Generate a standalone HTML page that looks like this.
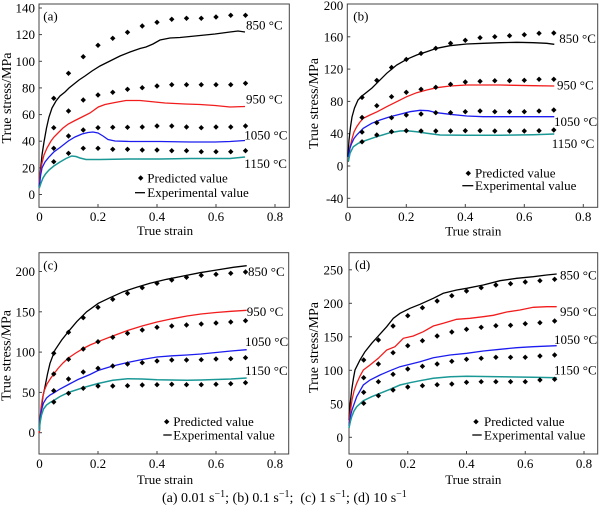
<!DOCTYPE html>
<html><head><meta charset="utf-8"><style>
html,body{margin:0;padding:0;background:#fff}
svg{display:block;font-family:"Liberation Serif","Times New Roman",Times,serif}
svg text{font-family:"Liberation Serif","Times New Roman",Times,serif;font-size:13px;fill:#000}
.f{fill:none;stroke:#444;stroke-width:1}
.t{stroke:#444;stroke-width:1}
.k{fill:none;stroke:#000;stroke-width:1.3}
.r{fill:none;stroke:#f21c1c;stroke-width:1.3}
.b{fill:none;stroke:#1c1cf0;stroke-width:1.3}
.c{fill:none;stroke:#1a9896;stroke-width:1.5}
</style></head><body>
<svg width="600" height="512" viewBox="0 0 600 512" xmlns="http://www.w3.org/2000/svg" font-family="Liberation Serif, Times New Roman, serif" font-size="13" style="font-family:'Liberation Serif',serif">
<defs><path id="m" d="M0,-2.7L2.7,0L0,2.7L-2.7,0Z" fill="#000"/></defs>

<!-- ================= (a) ================= -->
<rect class="f" x="39" y="4" width="250.3" height="203.3"/>
<g class="t">
<line x1="98" y1="207.3" x2="98" y2="204"/><line x1="157" y1="207.3" x2="157" y2="204"/><line x1="216" y1="207.3" x2="216" y2="204"/><line x1="275" y1="207.3" x2="275" y2="204"/>
<line x1="39" y1="194.5" x2="42" y2="194.5"/><line x1="39" y1="167.9" x2="42" y2="167.9"/><line x1="39" y1="141.2" x2="42" y2="141.2"/><line x1="39" y1="114.6" x2="42" y2="114.6"/><line x1="39" y1="87.9" x2="42" y2="87.9"/><line x1="39" y1="61.3" x2="42" y2="61.3"/><line x1="39" y1="34.6" x2="42" y2="34.6"/><line x1="39" y1="8" x2="42" y2="8"/>
</g>
<g text-anchor="end">
<text x="35" y="199">0</text><text x="35" y="172.4">20</text><text x="35" y="145.7">40</text><text x="35" y="119.1">60</text><text x="35" y="92.4">80</text><text x="35" y="65.8">100</text><text x="35" y="39.1">120</text><text x="35" y="12.5">140</text>
</g>
<g text-anchor="middle">
<text x="39.5" y="221">0</text><text x="98" y="221">0.2</text><text x="157" y="221">0.4</text><text x="216" y="221">0.6</text><text x="275" y="221">0.8</text>
<text x="165" y="235">True strain</text>
<text transform="translate(11,98) rotate(-90)" font-size="14" style="font-size:14px" textLength="91" lengthAdjust="spacingAndGlyphs">True stress/MPa</text>
</g>
<text x="43.3" y="20.5">(a)</text>
<text x="246" y="29.5">850 °C</text><text x="246" y="103.5">950 °C</text><text x="244.3" y="139.5">1050 °C</text><text x="244.3" y="167.8">1150 °C</text>
<polyline class="k" points="39.3,187 40.5,170 42,155 44,142 46.5,128 49,117 52,108 56,101 60,96 65,92 69,88 74,84 79,80 85,76 92,71 100,66 110,61 120,56 130,52 140,48.5 146,47 153,44 160,40 170,38 180,37.5 190,36.5 200,35.5 215,34 230,32 238,31 245,32"/>
<polyline class="r" points="39.3,183 40.5,172 42,163 44,155 47,148 51,141 54,137 58,133 63,128 68.3,124 75,120.5 83,116.5 90,113 98.3,107 105,104.5 115,102.5 126,100.5 140,100.5 150,101.5 165,103 185,104 200,104.5 215,105.5 230,107 245,106.5"/>
<polyline class="b" points="39.3,188 40.5,176 42,168 45,162 49,157 53.8,152 60,147.5 68.3,141 75,137 82,134 88,132.5 93,132 98,133 103,136 108,139.5 115,141 130,141.5 160,141.5 190,142 215,142 230,141.5 245,140.5"/>
<polyline class="c" points="39.3,188 41,183 43,178 45.5,174 49,170 53.8,166 60,162 66,158.5 71.7,156 76,156.5 80,158 86,159.5 100,159.5 130,159 160,159 190,158.5 215,158.5 230,158.5 245,157"/>
<g transform="translate(39,0)">
<use href="#m" x="14.75" y="98.3"/><use href="#m" x="29.5" y="73.3"/><use href="#m" x="44.25" y="56.7"/><use href="#m" x="59" y="45.3"/><use href="#m" x="73.75" y="38.3"/><use href="#m" x="88.5" y="32.3"/><use href="#m" x="103.25" y="26"/><use href="#m" x="118" y="22.3"/><use href="#m" x="132.75" y="19.3"/><use href="#m" x="147.5" y="18.3"/><use href="#m" x="162.25" y="18.3"/><use href="#m" x="177" y="17"/><use href="#m" x="191.75" y="15.3"/><use href="#m" x="206.5" y="15.3"/>
<use href="#m" x="14.75" y="127.7"/><use href="#m" x="29.5" y="111"/><use href="#m" x="44.25" y="100"/><use href="#m" x="59" y="95"/><use href="#m" x="73.75" y="92.3"/><use href="#m" x="88.5" y="89.3"/><use href="#m" x="103.25" y="87.7"/><use href="#m" x="118" y="86"/><use href="#m" x="132.75" y="84.7"/><use href="#m" x="147.5" y="84.7"/><use href="#m" x="162.25" y="84.7"/><use href="#m" x="177" y="84.7"/><use href="#m" x="191.75" y="84.7"/><use href="#m" x="206.5" y="83.3"/>
<use href="#m" x="14.75" y="148.3"/><use href="#m" x="29.5" y="136"/><use href="#m" x="44.25" y="130"/><use href="#m" x="59" y="127.7"/><use href="#m" x="73.75" y="127.3"/><use href="#m" x="88.5" y="127.3"/><use href="#m" x="103.25" y="127"/><use href="#m" x="118" y="126"/><use href="#m" x="132.75" y="126"/><use href="#m" x="147.5" y="127"/><use href="#m" x="162.25" y="127.7"/><use href="#m" x="177" y="127"/><use href="#m" x="191.75" y="127"/><use href="#m" x="206.5" y="126"/>
<use href="#m" x="14.75" y="161.7"/><use href="#m" x="29.5" y="153.3"/><use href="#m" x="44.25" y="148.3"/><use href="#m" x="59" y="148.3"/><use href="#m" x="73.75" y="149.3"/><use href="#m" x="88.5" y="149.3"/><use href="#m" x="103.25" y="150"/><use href="#m" x="118" y="150"/><use href="#m" x="132.75" y="150.7"/><use href="#m" x="147.5" y="150.7"/><use href="#m" x="162.25" y="151.7"/><use href="#m" x="177" y="151.7"/><use href="#m" x="191.75" y="151.7"/><use href="#m" x="206.5" y="150.7"/>
</g>
<use href="#m" x="140.7" y="178"/><text x="147.3" y="182.5">Predicted value</text>
<line x1="135" y1="192.7" x2="145" y2="192.7" stroke="#000" stroke-width="1.3"/><text x="147.3" y="197">Experimental value</text>

<!-- ================= (b) ================= -->
<rect class="f" x="347.3" y="4" width="250.4" height="203.3"/>
<g class="t">
<line x1="406.3" y1="207.3" x2="406.3" y2="204"/><line x1="465.3" y1="207.3" x2="465.3" y2="204"/><line x1="524.3" y1="207.3" x2="524.3" y2="204"/><line x1="583.3" y1="207.3" x2="583.3" y2="204"/>
<line x1="347.3" y1="198.3" x2="350.3" y2="198.3"/><line x1="347.3" y1="166" x2="350.3" y2="166"/><line x1="347.3" y1="133.7" x2="350.3" y2="133.7"/><line x1="347.3" y1="101.4" x2="350.3" y2="101.4"/><line x1="347.3" y1="69.1" x2="350.3" y2="69.1"/><line x1="347.3" y1="36.8" x2="350.3" y2="36.8"/>
</g>
<g text-anchor="end">
<text x="343.3" y="202.8">-40</text><text x="343.3" y="170.5">0</text><text x="343.3" y="138.2">40</text><text x="343.3" y="105.9">80</text><text x="343.3" y="73.6">120</text><text x="343.3" y="41.3">160</text><text x="343.3" y="10">200</text>
</g>
<g text-anchor="middle">
<text x="348" y="221">0</text><text x="406.3" y="221">0.2</text><text x="465.3" y="221">0.4</text><text x="524.3" y="221">0.6</text><text x="583.3" y="221">0.8</text>
<text x="473.3" y="235.5">True strain</text>
<text transform="translate(318,103.5) rotate(-90)" font-size="14" style="font-size:14px" textLength="91" lengthAdjust="spacingAndGlyphs">True stress/MPa</text>
</g>
<text x="353.3" y="20.5">(b)</text>
<text x="559.3" y="42.8">850 °C</text><text x="557" y="89.5">950 °C</text><text x="554" y="126.2">1050 °C</text><text x="551.7" y="147.8">1150 °C</text>
<polyline class="k" points="348,157 349,140 350.5,127 352,117 354.5,108 358,100 362,96 367,92 372,88 377.3,82.7 386.7,73.3 396.7,65 406.7,59.3 416.7,55 426.7,51.7 436.7,48.3 450,45.7 466.7,44 483.3,43.3 500,42.7 516.7,42.3 533.3,42.7 546.7,43.3 554.3,44.3"/>
<polyline class="r" points="348.3,162 349.5,150 351.7,140 354,132 356.7,126.7 360,122 363.3,118.3 370,115 377.3,111.7 386.7,106.7 396.7,101.7 406.7,96.7 416.7,92.7 426.7,90 436.7,87.7 450,86 466.7,85 500,85 533.3,85.7 554.3,86"/>
<polyline class="b" points="348.3,157 350,148 351.7,143.3 354,138.5 356.7,135 363.3,128.3 371.7,123.3 380,120 390,116.7 400,114.3 410,111.7 420,110.3 428.3,110.7 436.7,112.7 450,114.3 466.7,116 483.3,116.7 516.7,116.7 554.3,116.7"/>
<polyline class="c" points="348.3,161.7 350,153.3 353.3,146.7 358.3,143.3 365,140.7 376.7,136.7 390,132.7 400,131 406.7,130.7 416.7,131.7 426.7,133.3 440,135 466.7,135.3 500,135.3 533.3,134.7 554.3,134"/>
<g transform="translate(347.3,0)">
<use href="#m" x="14.75" y="97.4"/><use href="#m" x="29.5" y="80.4"/><use href="#m" x="44.25" y="67.5"/><use href="#m" x="59" y="59.4"/><use href="#m" x="73.75" y="53.4"/><use href="#m" x="88.5" y="48.3"/><use href="#m" x="103.25" y="43.3"/><use href="#m" x="118" y="40.3"/><use href="#m" x="132.75" y="37.7"/><use href="#m" x="147.5" y="36.7"/><use href="#m" x="162.25" y="35.7"/><use href="#m" x="177" y="34.7"/><use href="#m" x="191.75" y="33.3"/><use href="#m" x="206.5" y="33"/>
<use href="#m" x="14.75" y="117.5"/><use href="#m" x="29.5" y="105.7"/><use href="#m" x="44.25" y="96.7"/><use href="#m" x="59" y="92.3"/><use href="#m" x="73.75" y="89.3"/><use href="#m" x="88.5" y="87.3"/><use href="#m" x="103.25" y="84.3"/><use href="#m" x="118" y="82"/><use href="#m" x="132.75" y="81.3"/><use href="#m" x="147.5" y="80.7"/><use href="#m" x="162.25" y="80.7"/><use href="#m" x="177" y="80.3"/><use href="#m" x="191.75" y="79.3"/><use href="#m" x="206.5" y="79.3"/>
<use href="#m" x="14.75" y="132.1"/><use href="#m" x="29.5" y="122.7"/><use href="#m" x="44.25" y="117.7"/><use href="#m" x="59" y="115"/><use href="#m" x="73.75" y="114"/><use href="#m" x="88.5" y="112.7"/><use href="#m" x="103.25" y="112.7"/><use href="#m" x="118" y="111.7"/><use href="#m" x="132.75" y="111"/><use href="#m" x="147.5" y="111.7"/><use href="#m" x="162.25" y="111.7"/><use href="#m" x="177" y="111.7"/><use href="#m" x="191.75" y="111"/><use href="#m" x="206.5" y="110"/>
<use href="#m" x="14.75" y="141.8"/><use href="#m" x="29.5" y="135"/><use href="#m" x="44.25" y="131.7"/><use href="#m" x="59" y="130.7"/><use href="#m" x="73.75" y="131"/><use href="#m" x="88.5" y="131"/><use href="#m" x="103.25" y="131"/><use href="#m" x="118" y="130.7"/><use href="#m" x="132.75" y="130.7"/><use href="#m" x="147.5" y="131"/><use href="#m" x="162.25" y="131"/><use href="#m" x="177" y="131"/><use href="#m" x="191.75" y="130.7"/><use href="#m" x="206.5" y="130"/>
</g>
<use href="#m" x="468.3" y="173.3"/><text x="475" y="177.5">Predicted value</text>
<line x1="462.3" y1="185.7" x2="473.3" y2="185.7" stroke="#000" stroke-width="1.3"/><text x="475" y="190">Experimental value</text>

<!-- ================= (c) ================= -->
<rect class="f" x="39" y="252.7" width="249.7" height="201.3"/>
<g class="t">
<line x1="98" y1="454" x2="98" y2="451"/><line x1="157" y1="454" x2="157" y2="451"/><line x1="216" y1="454" x2="216" y2="451"/><line x1="275" y1="454" x2="275" y2="451"/>
<line x1="39" y1="432.7" x2="42" y2="432.7"/><line x1="39" y1="392.4" x2="42" y2="392.4"/><line x1="39" y1="352.1" x2="42" y2="352.1"/><line x1="39" y1="311.8" x2="42" y2="311.8"/><line x1="39" y1="271.5" x2="42" y2="271.5"/>
</g>
<g text-anchor="end">
<text x="35" y="437.2">0</text><text x="35" y="396.9">50</text><text x="35" y="356.6">100</text><text x="35" y="316.3">150</text><text x="35" y="276">200</text>
</g>
<g text-anchor="middle">
<text x="39.5" y="468">0</text><text x="98" y="468">0.2</text><text x="157" y="468">0.4</text><text x="216" y="468">0.6</text><text x="275" y="468">0.8</text>
<text x="165" y="484">True strain</text>
<text transform="translate(10.5,355.5) rotate(-90)" font-size="14" style="font-size:14px" textLength="91" lengthAdjust="spacingAndGlyphs">True stress/MPa</text>
</g>
<text x="43.3" y="269.5">(c)</text>
<text x="248" y="276.2">850 °C</text><text x="246.7" y="316.2">950 °C</text><text x="245" y="346.2">1050 °C</text><text x="245" y="375.2">1150 °C</text>
<polyline class="k" points="39.3,433 40.5,415 41.7,406.7 43,396 45,386.7 47.5,374 50,363.3 55,350 61.7,340 68.3,331.7 76.7,321.7 86.7,311.7 98.3,303.3 110,297.7 123.3,291.7 136.7,287.3 150,283.3 166.7,279.3 183.3,276 200,272.7 216.7,270 233.3,267.3 246.7,265.7"/>
<polyline class="r" points="39.3,433 40,420 41,408 42.5,398 44.5,390 47,384 50.5,378.5 53.75,374 58,368.5 63,363 68.5,358 75,353.5 83.25,348.5 90,345 98,341.7 112.75,336 127.5,330.5 142,326 157,322 172,318.8 187,316 201,314 216,312.5 231,311.3 246.7,310.3"/>
<polyline class="b" points="39.3,431 40,420 41.5,410 43.5,403 46.5,398 50,395 53.75,393 60,389 68.5,384.5 78,379.5 90,374.5 98,370.5 112.75,366 127.5,362.5 142.25,359.5 157,357 172,355.8 187,355 201,354 216,352.5 231,351 246.7,349.7"/>
<polyline class="c" points="39.3,431 40,423 41.5,415 43.5,409 46.5,405 50,402.5 53.75,400.5 60,396.5 68.5,392.4 83.25,387.6 98,383.5 112.75,380.3 127.5,378.7 142.25,379 157,379.8 172,380 187,380.2 201,380 216,379.5 231,379 246.7,378"/>
<g transform="translate(39,0)">
<use href="#m" x="14.75" y="353.3"/><use href="#m" x="29.5" y="332.3"/><use href="#m" x="44.25" y="317.7"/><use href="#m" x="59" y="307.3"/><use href="#m" x="73.75" y="299.3"/><use href="#m" x="88.5" y="293.3"/><use href="#m" x="103.25" y="287.7"/><use href="#m" x="118" y="283.3"/><use href="#m" x="132.75" y="280"/><use href="#m" x="147.5" y="277.3"/><use href="#m" x="162.25" y="275.3"/><use href="#m" x="177" y="274.3"/><use href="#m" x="191.75" y="273.3"/><use href="#m" x="206.5" y="272"/>
<use href="#m" x="14.75" y="374"/><use href="#m" x="29.5" y="359.3"/><use href="#m" x="44.25" y="349"/><use href="#m" x="59" y="341.7"/><use href="#m" x="73.75" y="337.3"/><use href="#m" x="88.5" y="333.3"/><use href="#m" x="103.25" y="330"/><use href="#m" x="118" y="327.3"/><use href="#m" x="132.75" y="326"/><use href="#m" x="147.5" y="325"/><use href="#m" x="162.25" y="324"/><use href="#m" x="177" y="323"/><use href="#m" x="191.75" y="322"/><use href="#m" x="206.5" y="320.7"/>
<use href="#m" x="14.75" y="390.7"/><use href="#m" x="29.5" y="379"/><use href="#m" x="44.25" y="372"/><use href="#m" x="59" y="368.3"/><use href="#m" x="73.75" y="366"/><use href="#m" x="88.5" y="364"/><use href="#m" x="103.25" y="362.7"/><use href="#m" x="118" y="361"/><use href="#m" x="132.75" y="360"/><use href="#m" x="147.5" y="360"/><use href="#m" x="162.25" y="359.7"/><use href="#m" x="177" y="359"/><use href="#m" x="191.75" y="358.7"/><use href="#m" x="206.5" y="357.7"/>
<use href="#m" x="14.75" y="402"/><use href="#m" x="29.5" y="393.3"/><use href="#m" x="44.25" y="388.3"/><use href="#m" x="59" y="386"/><use href="#m" x="73.75" y="386"/><use href="#m" x="88.5" y="385.7"/><use href="#m" x="103.25" y="385"/><use href="#m" x="118" y="384.7"/><use href="#m" x="132.75" y="384.3"/><use href="#m" x="147.5" y="384.7"/><use href="#m" x="162.25" y="384.7"/><use href="#m" x="177" y="384.3"/><use href="#m" x="191.75" y="383.7"/><use href="#m" x="206.5" y="382.7"/>
</g>
<use href="#m" x="166.7" y="421.7"/><text x="173.3" y="426">Predicted value</text>
<line x1="163.3" y1="435" x2="171.7" y2="435" stroke="#000" stroke-width="1.3"/><text x="173.3" y="439.5">Experimental value</text>

<!-- ================= (d) ================= -->
<rect class="f" x="349" y="252.7" width="248.7" height="201.3"/>
<g class="t">
<line x1="407.75" y1="454" x2="407.75" y2="451"/><line x1="466.5" y1="454" x2="466.5" y2="451"/><line x1="525.25" y1="454" x2="525.25" y2="451"/><line x1="584" y1="454" x2="584" y2="451"/>
<line x1="349" y1="437.3" x2="352" y2="437.3"/><line x1="349" y1="403.8" x2="352" y2="403.8"/><line x1="349" y1="370.3" x2="352" y2="370.3"/><line x1="349" y1="336.8" x2="352" y2="336.8"/><line x1="349" y1="303.3" x2="352" y2="303.3"/><line x1="349" y1="269.8" x2="352" y2="269.8"/>
</g>
<g text-anchor="end">
<text x="343" y="441.8">0</text><text x="343" y="408.3">50</text><text x="343" y="374.8">100</text><text x="343" y="341.3">150</text><text x="343" y="307.8">200</text><text x="343" y="274.3">250</text>
</g>
<g text-anchor="middle">
<text x="349.5" y="468">0</text><text x="407.75" y="468">0.2</text><text x="466.5" y="468">0.4</text><text x="525.25" y="468">0.6</text><text x="584" y="468">0.8</text>
<text x="473.3" y="484">True strain</text>
<text transform="translate(318,347.5) rotate(-90)" font-size="14" style="font-size:14px" textLength="91" lengthAdjust="spacingAndGlyphs">True stress/MPa</text>
</g>
<text x="355" y="268.8">(d)</text>
<text x="560" y="279.5">850 °C</text><text x="560" y="316.2">950 °C</text><text x="554" y="343.8">1050 °C</text><text x="554" y="374.5">1150 °C</text>
<polyline class="k" points="349,420 350,405 351.7,390 353.5,378 355,370 360,360 365,351.7 371.7,343.3 378.3,336 386.7,326.7 393.3,318.3 400,313.3 410,308.3 420,304.3 433.3,298.3 443.3,293.3 456.7,290 466.7,288.3 483.3,285 500,280.7 516.7,278.3 533.3,276.7 546.7,275 556.7,274"/>
<polyline class="r" points="349,423 350.5,410 352,400 354,391 356.7,383.3 360,376 363.3,370 370,365 378.3,358.3 386.7,350 395,346.7 403.3,338.3 413.3,336 423.3,331.7 433.3,326 443.3,323.3 456.7,319.3 470,318.3 483.3,316.7 493.3,315.3 506.7,312 520,310 533.3,307.3 546.7,306.7 556.7,306.7"/>
<polyline class="b" points="349,426 350.5,416 352,410 356.7,396.7 363.3,385 370,380 380,375 390,370.7 400,366.7 410,364.3 420,361.7 433.3,357.7 450,355 466.7,353.3 483.3,351 500,349.3 516.7,347.7 533.3,346.7 556.7,345.7"/>
<polyline class="c" points="349,428 350.5,421 351.7,416.7 354,411 356.7,406.7 363.3,400.7 371.7,396.7 380,393.3 390,389.3 400,385 410,382.7 420,380.7 433.3,378.3 450,376.7 466.7,376.3 500,376.7 533.3,377.3 556.7,377.7"/>
<g transform="translate(349,0)">
<use href="#m" x="14.69" y="360"/><use href="#m" x="29.38" y="340"/><use href="#m" x="44.06" y="326"/><use href="#m" x="58.75" y="315.7"/><use href="#m" x="73.44" y="307.7"/><use href="#m" x="88.13" y="301"/><use href="#m" x="102.81" y="295.7"/><use href="#m" x="117.5" y="291"/><use href="#m" x="132.19" y="287.7"/><use href="#m" x="146.88" y="285"/><use href="#m" x="161.56" y="283.7"/><use href="#m" x="176.25" y="282"/><use href="#m" x="190.94" y="280.7"/><use href="#m" x="205.63" y="279.3"/>
<use href="#m" x="14.69" y="377.7"/><use href="#m" x="29.38" y="364"/><use href="#m" x="44.06" y="352.7"/><use href="#m" x="58.75" y="345.7"/><use href="#m" x="73.44" y="340.7"/><use href="#m" x="88.13" y="336"/><use href="#m" x="102.81" y="332"/><use href="#m" x="117.5" y="329.3"/><use href="#m" x="132.19" y="327.3"/><use href="#m" x="146.88" y="325.7"/><use href="#m" x="161.56" y="325.3"/><use href="#m" x="176.25" y="323.7"/><use href="#m" x="190.94" y="322.7"/><use href="#m" x="205.63" y="321"/>
<use href="#m" x="14.69" y="392.3"/><use href="#m" x="29.38" y="381.7"/><use href="#m" x="44.06" y="374.3"/><use href="#m" x="58.75" y="369"/><use href="#m" x="73.44" y="366.3"/><use href="#m" x="88.13" y="364"/><use href="#m" x="102.81" y="361.3"/><use href="#m" x="117.5" y="359.3"/><use href="#m" x="132.19" y="358.3"/><use href="#m" x="146.88" y="357.3"/><use href="#m" x="161.56" y="357.3"/><use href="#m" x="176.25" y="357.3"/><use href="#m" x="190.94" y="356"/><use href="#m" x="205.63" y="355"/>
<use href="#m" x="14.69" y="403.3"/><use href="#m" x="29.38" y="395.7"/><use href="#m" x="44.06" y="390"/><use href="#m" x="58.75" y="387"/><use href="#m" x="73.44" y="385.7"/><use href="#m" x="88.13" y="384.7"/><use href="#m" x="102.81" y="384"/><use href="#m" x="117.5" y="382.3"/><use href="#m" x="132.19" y="381.7"/><use href="#m" x="146.88" y="381.7"/><use href="#m" x="161.56" y="381.7"/><use href="#m" x="176.25" y="381.7"/><use href="#m" x="190.94" y="380"/><use href="#m" x="205.63" y="379.3"/>
</g>
<use href="#m" x="476" y="421.7"/><text x="484" y="426">Predicted value</text>
<line x1="472.3" y1="435" x2="481.7" y2="435" stroke="#000" stroke-width="1.3"/><text x="484" y="439.5">Experimental value</text>

<!-- caption -->
<text x="162" y="502" font-size="14" style="font-size:14px;white-space:pre">(a) 0.01 s<tspan dy="-5" font-size="10" style="font-size:10px">−1</tspan><tspan dy="5">; (b) 0.1 s</tspan><tspan dy="-5" font-size="10" style="font-size:10px">−1</tspan><tspan dy="5">;  (c) 1 s</tspan><tspan dy="-5" font-size="10" style="font-size:10px">−1</tspan><tspan dy="5">; (d) 10 s</tspan><tspan dy="-5" font-size="10" style="font-size:10px">−1</tspan></text>
</svg>
</body></html>
